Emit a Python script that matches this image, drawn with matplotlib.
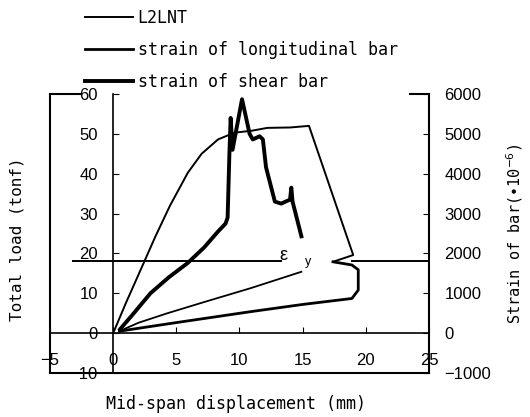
import matplotlib.pyplot as plt

# load - displacement curve (L2LNT), left axis in tonf
disp_load = [0, 1.0, 2.4, 3.35, 4.5, 5.9, 7.0, 8.3, 9.6, 11.0, 12.2, 14.0, 15.5, 19.0, 17.4]
load = [0, 7.5, 17.5, 24.3, 32.0, 40.2, 45.0, 48.6, 50.3, 50.8, 51.5, 51.6, 52.0, 19.6, 17.9]

# strain of longitudinal bar (x10^-6), right axis
disp_long = [0.5, 4.9, 10.9, 15.0, 18.9, 19.4, 19.4, 18.9, 17.4]
strain_long = [50, 260, 540, 720, 870, 1080, 1590, 1710, 1790]

# second longitudinal gauge (thin line, no legend entry)
disp_long2 = [0.5, 2.0, 4.3, 7.2, 10.9, 14.9]
strain_long2 = [50, 260, 500, 780, 1130, 1540]

# strain of shear bar (x10^-6), right axis
disp_shear = [0.55, 1.5, 2.95, 4.4, 5.9, 7.2, 8.3, 8.9, 9.06, 9.2, 9.3, 9.45, 10.2, 10.8,
              11.05, 11.6, 11.85, 12.1, 12.8, 13.3, 14.0, 14.1, 14.2, 14.9]
strain_shear = [100, 450, 1000, 1400, 1760, 2150, 2550, 2750, 2900, 4500, 5400, 4600, 5870, 5000,
                4860, 4940, 4860, 4160, 3300, 3250, 3350, 3650, 3300, 2430]

yield_strain = 1800

x_ticks = [-5, 0, 5, 10, 15, 20, 25]
load_ticks = [-10, 0, 10, 20, 30, 40, 50, 60]
strain_ticks = [-1000, 0, 1000, 2000, 3000, 4000, 5000, 6000]

mono = ['DejaVu Sans Mono', 'DejaVu Sans']
plt.rcParams['font.family'] = ['Liberation Sans', 'DejaVu Sans']

fig = plt.figure(figsize=(5.3, 4.17), dpi=100)
ax = fig.add_axes([50 / 530, 1 - 373 / 417, 379 / 530, 279 / 417])
ax2 = ax.twinx()

l1, = ax.plot(disp_load, load, color='black', lw=1.4, label='L2LNT')
l2, = ax2.plot(disp_long, strain_long, color='black', lw=2.0, label='strain of longitudinal bar')
ax2.plot(disp_long2, strain_long2, color='black', lw=1.3)
l3, = ax2.plot(disp_shear, strain_shear, color='black', lw=2.8, label='strain of shear bar')

# yield strain line with a gap for its label
ax2.plot([-3.2, 13.3], [yield_strain, yield_strain], color='black', lw=1.4)
ax2.plot([18.9, 25], [yield_strain, yield_strain], color='black', lw=1.4)
ax2.text(13.5, 1960, 'ε', fontsize=13, ha='center', va='center')
ax2.text(15.4, 1780, 'y', fontsize=9, ha='center', va='center')

ax.set_xlim(-5, 25)
ax.set_ylim(-10, 60)
ax2.set_ylim(-1000, 6000)

# inner axes through the origin
ax.spines['left'].set_position(('data', 0))
ax.spines['bottom'].set_position(('data', 0))
ax.spines['top'].set_visible(False)
ax.spines['right'].set_visible(False)
for s in ['left', 'bottom', 'right']:
    ax2.spines[s].set_linewidth(1.5)
ax2.spines['top'].set_visible(False)
ax.spines['left'].set_linewidth(1.2)
ax.spines['bottom'].set_linewidth(1.2)

ax.set_xticks(x_ticks)
ax.set_yticks(load_ticks)
ax2.set_yticks(strain_ticks)
ax.tick_params(axis='x', direction='in', length=4, pad=14, labelsize=12)
ax.tick_params(axis='y', direction='in', length=4, pad=11, labelsize=12)
ax2.tick_params(axis='y', direction='in', length=4, pad=11, labelsize=12)

# short corner pieces of the top frame
ax.plot([0, 0.08], [1, 1], color='black', lw=1.5, transform=ax.transAxes, clip_on=False)
ax.plot([0.95, 1], [1, 1], color='black', lw=1.5, transform=ax.transAxes, clip_on=False)

ax.set_xlabel('Mid-span displacement (mm)', family=mono, fontsize=12)
ax.xaxis.set_label_coords(0.49, -0.08)
ax.set_ylabel('Total load (tonf)', family=mono, fontsize=11.5)
ax.yaxis.set_label_coords(-0.066, 0.48)
ax2.set_ylabel('Strain of bar(•10$^{-6}$)', family=mono, fontsize=11)
ax2.yaxis.set_label_coords(1.2, 0.5)

fig.legend(handles=[l1, l2, l3], loc='upper left', bbox_to_anchor=(70 / 530, 1.015),
           frameon=False, prop={'family': mono, 'size': 12}, handlelength=2.9,
           handletextpad=0.25, labelspacing=0.85)

fig.savefig('out.png', dpi=100)
